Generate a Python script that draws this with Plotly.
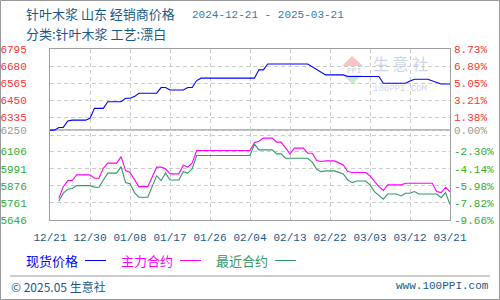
import plotly.graph_objects as go

# ---------------- data ----------------
spot_dates = ["2024-12-21", "2024-12-22", "2024-12-23", "2024-12-24", "2024-12-25", "2024-12-26",
              "2024-12-29", "2024-12-30", "2024-12-31", "2025-01-02", "2025-01-03", "2025-01-06",
              "2025-01-07", "2025-01-08", "2025-01-09", "2025-01-10", "2025-01-14", "2025-01-15",
              "2025-01-16", "2025-01-17", "2025-01-20", "2025-01-21", "2025-01-22", "2025-01-23",
              "2025-01-24", "2025-02-05", "2025-02-06", "2025-02-07", "2025-02-08", "2025-02-17",
              "2025-02-21", "2025-02-25", "2025-02-26", "2025-03-05", "2025-03-06", "2025-03-11",
              "2025-03-12", "2025-03-13", "2025-03-16", "2025-03-17", "2025-03-19", "2025-03-21"]
spot_values = [6250, 6250, 6268, 6268, 6311, 6317,
               6317, 6329, 6396, 6396, 6441, 6441,
               6464, 6464, 6475, 6498, 6498, 6536,
               6536, 6520, 6520, 6536, 6536, 6583,
               6599, 6599, 6655, 6655, 6694, 6694,
               6621, 6621, 6610, 6610, 6565, 6565,
               6580, 6592, 6592, 6580, 6560, 6560]

main_dates = ["2024-12-23", "2024-12-24", "2024-12-25", "2024-12-26", "2024-12-27", "2024-12-30",
              "2024-12-31", "2025-01-01", "2025-01-02", "2025-01-03", "2025-01-05", "2025-01-06",
              "2025-01-07", "2025-01-08", "2025-01-10", "2025-01-12", "2025-01-14", "2025-01-15",
              "2025-01-16", "2025-01-17", "2025-01-19", "2025-01-20", "2025-01-21", "2025-01-22",
              "2025-01-23", "2025-02-04", "2025-02-05", "2025-02-06", "2025-02-07", "2025-02-09",
              "2025-02-10", "2025-02-11", "2025-02-13", "2025-02-14", "2025-02-16", "2025-02-17",
              "2025-02-18", "2025-02-19", "2025-02-20", "2025-02-21", "2025-02-23", "2025-02-25",
              "2025-02-26", "2025-02-27", "2025-03-02", "2025-03-03", "2025-03-05", "2025-03-06",
              "2025-03-07", "2025-03-10", "2025-03-11", "2025-03-13", "2025-03-14", "2025-03-16",
              "2025-03-17", "2025-03-18", "2025-03-19", "2025-03-20", "2025-03-21"]
main_values = [5792, 5870, 5911, 5911, 5949, 5949,
               5927, 5927, 5994, 6028, 6028, 6072,
               5978, 5965, 5870, 5870, 6001, 6001,
               5990, 5956, 5956, 6016, 6001, 6030,
               6113, 6113, 6165, 6175, 6196, 6196,
               6169, 6169, 6090, 6129, 6129, 6095,
               6095, 6045, 6039, 6043, 6043, 6016,
               5971, 5965, 5965, 5942, 5870, 5844,
               5882, 5882, 5893, 5893, 5889, 5889,
               5893, 5837, 5830, 5866, 5835]

near_dates = ["2024-12-23", "2024-12-24", "2024-12-25", "2024-12-26", "2024-12-27", "2024-12-30",
              "2024-12-31", "2025-01-01", "2025-01-02", "2025-01-03", "2025-01-05", "2025-01-06",
              "2025-01-07", "2025-01-08", "2025-01-09", "2025-01-10", "2025-01-12", "2025-01-14",
              "2025-01-15", "2025-01-16", "2025-01-17", "2025-01-19", "2025-01-20", "2025-01-21",
              "2025-01-22", "2025-01-23", "2025-02-04", "2025-02-05", "2025-02-06", "2025-02-09",
              "2025-02-10", "2025-02-11", "2025-02-12", "2025-02-17", "2025-02-18", "2025-02-19",
              "2025-02-20", "2025-02-21", "2025-02-23", "2025-02-24", "2025-02-25", "2025-02-26",
              "2025-02-27", "2025-02-28", "2025-03-02", "2025-03-03", "2025-03-04", "2025-03-06",
              "2025-03-07", "2025-03-09", "2025-03-10", "2025-03-11", "2025-03-12", "2025-03-13",
              "2025-03-14", "2025-03-18", "2025-03-19", "2025-03-20", "2025-03-21"]
near_values = [5774, 5826, 5853, 5858, 5877, 5877,
               5866, 5866, 5915, 5961, 5961, 6005,
               5897, 5889, 5830, 5799, 5799, 5944,
               5911, 5961, 5915, 5915, 5971, 5961,
               5990, 6079, 6079, 6156, 6117, 6117,
               6090, 6090, 6061, 6061, 6035, 5987,
               5971, 5976, 5976, 5965, 5956, 5915,
               5897, 5908, 5908, 5882, 5837, 5786,
               5821, 5821, 5808, 5826, 5826, 5837,
               5821, 5821, 5796, 5830, 5750]

x_tick_dates = ["2024-12-21", "2024-12-30", "2025-01-08", "2025-01-17", "2025-01-26", "2025-02-04",
                "2025-02-13", "2025-02-22", "2025-03-03", "2025-03-12", "2025-03-21"]
y_tick_vals = [6795, 6680, 6565, 6450, 6335, 6250, 6215, 6106, 5991, 5876, 5761, 5646]
left_tick_labels = ["6795", "6680", "6565", "6450", "6335", "6250", "", "6106", "5991", "5876", "5761", "5646"]
right_tick_labels = ["8.73%", "6.89%", "5.05%", "3.21%", "1.38%", "0.00%", "",
                     "-2.30%", "-4.14%", "-5.98%", "-7.82%", "-9.66%"]
tick_groups = ["top"] * 5 + ["base", "none"] + ["bottom"] * 5
series_names = ["现货价格", "主力合约", "最近合约"]

# ---------------- style ----------------
C_SPOT, C_MAIN, C_NEAR = "#0000FF", "#FF00FF", "#339966"
C_TITLE = "#18598A"
C_GRID = "#CCCCCC"
C_FRAME = "#A0A0A0"
group_color = {"top": "#FF3333", "base": "#999999", "none": "#999999", "bottom": "#33AA33"}
MONO = "Liberation Mono, DejaVu Sans Mono, monospace"
CJK = "Noto Sans CJK SC, Noto Sans, sans-serif"

W, H = 500, 300
ML, MR, MT, MB = 50, 50, 49, 80
PW, PH = W - ML - MR, H - MT - MB


def px(x):
    return (x - ML) / PW


def py(y):
    return (H - MB - y) / PH


def colored(labels):
    return [f'<span style="color:{group_color[g]}">{t}</span>' for t, g in zip(labels, tick_groups)]


fig = go.Figure()
fig.add_trace(go.Scatter(x=spot_dates, y=spot_values, mode="lines", name=series_names[0],
                         line=dict(color=C_SPOT, width=1.1), showlegend=False))
fig.add_trace(go.Scatter(x=main_dates, y=main_values, mode="lines", name=series_names[1],
                         line=dict(color=C_MAIN, width=1.1), showlegend=False))
fig.add_trace(go.Scatter(x=near_dates, y=near_values, mode="lines", name=series_names[2],
                         line=dict(color=C_NEAR, width=1.1), showlegend=False))
# invisible carrier for the right-hand percentage axis
fig.add_trace(go.Scatter(x=spot_dates, y=spot_values, mode="lines", yaxis="y2",
                         line=dict(width=0), opacity=0, showlegend=False, hoverinfo="skip"))

axis_common = dict(showline=True, mirror=True, linecolor=C_FRAME, linewidth=1, zeroline=False,
                   automargin=False)

fig.update_layout(
    width=W, height=H, margin=dict(l=ML, r=MR, t=MT, b=MB, autoexpand=False),
    paper_bgcolor="white", plot_bgcolor="white",
    showlegend=False,
    xaxis=dict(type="date", range=[x_tick_dates[0], x_tick_dates[-1]],
               tickvals=x_tick_dates, tickformat="%m/%d",
               showgrid=True, gridcolor=C_GRID, griddash="4px,3px", gridwidth=1,
               ticks="", ticklabelstandoff=7,
               tickfont=dict(family=MONO, size=11, color=C_TITLE), **axis_common),
    yaxis=dict(range=[5646, 6795], tickvals=y_tick_vals, ticktext=colored(left_tick_labels),
               showgrid=True, gridcolor=C_GRID, griddash="4px,3px", gridwidth=1,
               ticks="", ticklabelstandoff=20,
               tickfont=dict(family=MONO, size=11), **axis_common),
    yaxis2=dict(range=[5646, 6795], tickvals=y_tick_vals, ticktext=colored(right_tick_labels),
                overlaying="y", side="right", showgrid=False, ticks="", ticklabelstandoff=3,
                tickfont=dict(family=MONO, size=11), showline=False, zeroline=False,
                automargin=False),
)

shapes = []
# solid separator between the spot panel and the futures panel
shapes.append(dict(type="line", xref="paper", yref="y", x0=0, x1=1, y0=6250, y1=6250,
                   line=dict(color=C_FRAME, width=1.5), layer="between"))
# outer border
shapes.append(dict(type="rect", xref="paper", yref="paper", x0=px(0.5), x1=px(W - 0.5),
                   y0=py(H - 0.5), y1=py(0.5), line=dict(color="#999999", width=1)))
# footer separator
shapes.append(dict(type="line", xref="paper", yref="paper", x0=px(10), x1=px(490),
                   y0=py(276), y1=py(276), line=dict(color="#999999", width=1)))

# watermark logo
shapes.append(dict(type="path", xref="paper", yref="paper",
                   path=f"M {px(352)} {py(56)} L {px(342)} {py(66)} L {px(363)} {py(66)} Z",
                   fillcolor="rgba(240,150,150,0.55)", line=dict(width=0), layer="below"))
shapes.append(dict(type="path", xref="paper", yref="paper",
                   path=f"M {px(343)} {py(75)} L {px(362)} {py(75)} L {px(352.5)} {py(84)} Z",
                   fillcolor="rgba(150,220,150,0.55)", line=dict(width=0), layer="below"))

annotations = []


def txt(x, y, text, color, size=13, family=CJK, xanchor="left"):
    annotations.append(dict(x=px(x), y=py(y), xref="paper", yref="paper", text=text,
                            showarrow=False, xanchor=xanchor, yanchor="middle",
                            font=dict(family=family, size=size, color=color)))


# title
txt(24, 14, "针叶木浆 山东 经销商价格", C_TITLE, 13)
txt(190, 15, "2024-12-21 - 2025-03-21", "#3A78A6", 11, MONO)
txt(24, 34, "分类:针叶木浆 工艺:漂白", C_TITLE, 13)

# watermark text (one block)
annotations.append(dict(x=px(371), y=py(72), xref="paper", yref="paper", showarrow=False,
                        xanchor="left", yanchor="middle", align="left",
                        text='生 意 社<br><span style="font-size:9px;font-family:Liberation Mono">100PPI.COM</span>',
                        font=dict(family=CJK, size=16, color="rgba(170,185,215,0.6)")))
txt(345, 70, "PPI", "rgba(150,170,200,0.6)", 8, MONO)

# custom legend: label followed by line sample
legend_items = [(24, 85, C_SPOT), (119, 180, C_MAIN), (214, 275, C_NEAR)]
for name, (tx, lx, col) in zip(series_names, legend_items):
    txt(tx, 260, name, col, 13)
    shapes.append(dict(type="line", xref="paper", yref="paper", x0=px(lx), x1=px(lx + 21),
                       y0=py(260.5), y1=py(260.5), line=dict(color=col, width=1)))

# footer
txt(9, 286, "© 2025.05 生意社", C_TITLE, 12)
txt(491, 286, "www.100PPI.com", C_TITLE, 11, MONO, xanchor="right")

fig.update_layout(shapes=shapes, annotations=annotations)

fig.write_html("out.html")
